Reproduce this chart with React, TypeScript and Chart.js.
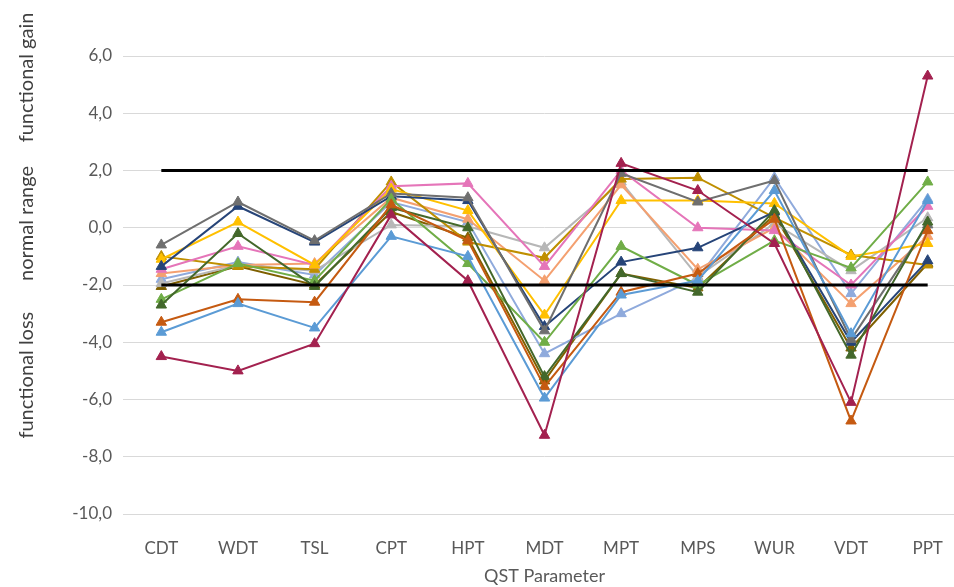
import React, { useEffect, useRef } from "react";
import { Chart, registerables } from "chart.js";
Chart.register(...registerables);

const categories = ["CDT", "WDT", "TSL", "CPT", "HPT", "MDT", "MPT", "MPS", "WUR", "VDT", "PPT"];
const yMin = -10;
const yMax = 6;
const yStep = 2;
const upperNormal = 2;
const lowerNormal = -2;

// values per category: CDT, WDT, TSL, CPT, HPT, MDT, MPT, MPS, WUR, VDT, PPT
const maroon = [-4.5, -5.0, -4.05, 0.45, -1.85, -7.25, 2.25, 1.3, -0.55, -6.1, 5.3];
const blue = [-3.65, -2.65, -3.5, -0.3, -1.0, -5.95, -2.35, -1.85, 1.3, -3.7, 0.95];
const brown = [-3.3, -2.5, -2.6, 0.8, -0.45, -5.55, -2.25, -1.6, 0.3, -6.75, -0.1];
const darkGreen = [-2.7, -0.2, -2.05, 0.7, 0.0, -5.2, -1.6, -2.25, 0.6, -4.45, 0.2];
const lightGreen = [-2.5, -1.25, -1.85, 1.0, -1.25, -4.0, -0.65, -2.0, -0.45, -1.4, 1.6];
const grey = [-0.6, 0.9, -0.45, 1.2, 1.05, -3.6, 1.9, 0.9, 1.65, -3.9, 0.1];
const darkBlue = [-1.35, 0.75, -0.5, 1.1, 0.95, -3.45, -1.2, -0.7, 0.55, -4.0, -1.15];
const yellow = [-1.1, 0.2, -1.3, 1.35, 0.6, -3.05, 0.95, 0.95, 0.85, -1.0, -0.55];
const pink = [-1.45, -0.65, -1.3, 1.45, 1.55, -1.35, 2.0, 0.0, -0.1, -2.0, 0.75];
const olive = [-1.0, -1.35, -1.45, 1.6, -0.5, -1.05, 1.7, 1.75, 0.35, -0.95, -1.3];
const lightOrange = [-1.6, -1.3, -1.25, 1.05, 0.3, -1.85, 1.5, -1.45, 0.0, -2.65, -0.3];
const lightGrey = [-1.95, -1.3, -1.5, 0.1, 0.05, -0.7, 1.6, -1.7, 0.15, -1.5, 0.35];
const lightBlue = [-1.8, -1.2, -1.65, 0.9, 0.2, -4.4, -3.0, -1.75, 1.75, -2.3, 1.0];
const darkOlive = [-2.05, -1.35, -2.0, 0.55, -0.35, -5.35, -1.6, -2.1, 0.45, -4.2, -1.25];

const sideLabels = [
  { text: "functional gain", value: 5.25 },
  { text: "normal range", value: 0.15 },
  { text: "functional loss", value: -5.15 },
];

const series: [string, number[], string][] = [
  ["maroon", maroon, "#A3214F"],
  ["blue", blue, "#5B9BD5"],
  ["brown", brown, "#C55A11"],
  ["darkGreen", darkGreen, "#43682B"],
  ["lightGreen", lightGreen, "#70AD47"],
  ["grey", grey, "#6F6F6F"],
  ["darkBlue", darkBlue, "#264478"],
  ["yellow", yellow, "#FFC000"],
  ["pink", pink, "#E575B9"],
  ["olive", olive, "#BF8F00"],
  ["lightOrange", lightOrange, "#F4A070"],
  ["lightGrey", lightGrey, "#B7B7B7"],
  ["lightBlue", lightBlue, "#8FAADC"],
  ["darkOlive", darkOlive, "#7F6000"],
];

const FONT = "Lato, 'Open Sans', sans-serif";
const TEXT = "#595959";

export default function App() {
  const ref = useRef<HTMLCanvasElement>(null);
  useEffect(() => {
    if (!ref.current) return;
    const sidePlugin = {
      id: "sideLabels",
      afterDraw(chart: any) {
        const ctx = chart.ctx;
        const y = chart.scales.y;
        ctx.save();
        ctx.fillStyle = "#404040";
        ctx.font = `20px ${FONT}`;
        ctx.textAlign = "center";
        ctx.textBaseline = "middle";
        sideLabels.forEach((l) => {
          ctx.save();
          ctx.translate(27, y.getPixelForValue(l.value));
          ctx.rotate(-Math.PI / 2);
          ctx.fillText(l.text, 0, 0);
          ctx.restore();
        });
        ctx.restore();
      },
    };
    const datasets: any[] = [
      {
        label: "upper",
        data: categories.map(() => upperNormal),
        borderColor: "#000000",
        borderWidth: 3,
        pointRadius: 0,
      },
      {
        label: "lower",
        data: categories.map(() => lowerNormal),
        borderColor: "#000000",
        borderWidth: 3,
        pointRadius: 0,
      },
      ...series.map(([name, data, color]) => ({
        label: name,
        data,
        borderColor: color,
        backgroundColor: color,
        borderWidth: 2,
        pointStyle: "triangle",
        pointRadius: 6,
        pointBorderWidth: 1,
        pointBackgroundColor: color,
        pointBorderColor: color,
      })),
    ];
    const chart = new Chart(ref.current, {
      type: "line",
      data: { labels: categories, datasets },
      options: {
        animation: false,
        responsive: false,
        devicePixelRatio: 1,
        layout: { padding: { top: 56, right: 9, left: 0, bottom: 0 } },
        plugins: { legend: { display: false }, tooltip: { enabled: false } },
        scales: {
          x: {
            offset: true,
            grid: { display: false, drawTicks: false },
            border: { color: "#D9D9D9", width: 1 },
            ticks: { color: TEXT, font: { family: FONT, size: 17 }, padding: 24, maxRotation: 0 },
            title: { display: true, text: "QST Parameter", color: TEXT, font: { family: FONT, size: 18 }, padding: 0 },
            afterFit: (s: any) => { s.height = 73; },
          },
          y: {
            min: yMin,
            max: yMax,
            grid: { color: "#D9D9D9", drawTicks: false },
            border: { display: false },
            ticks: {
              stepSize: yStep,
              color: TEXT,
              padding: 11,
              font: { family: FONT, size: 17 },
              callback: (v: any) => Number(v).toFixed(1).replace(".", ","),
            },
            afterFit: (s: any) => { s.width = 123; },
          },
        },
      },
      plugins: [sidePlugin],
    });
    return () => chart.destroy();
  }, []);
  return (
    <div style={{ position: "fixed", left: 0, top: 0, width: 954, height: 587, overflow: "hidden", background: "#fff" }}>
      <canvas ref={ref} width={975} height={587} style={{ width: 975, height: 587, display: "block" }} />
    </div>
  );
}
